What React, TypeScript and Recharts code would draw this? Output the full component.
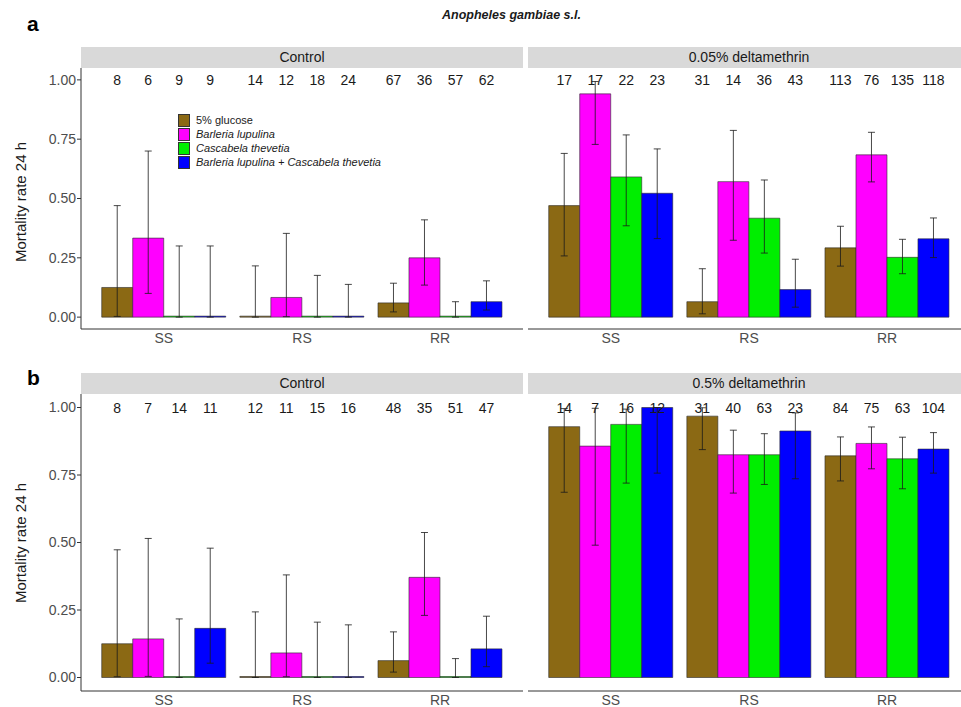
import React from 'react';
import { BarChart, Bar, XAxis, YAxis, ErrorBar, LabelList } from 'recharts';

const groups = ['SS', 'RS', 'RR'];
const treatments = ['5% glucose', 'Barleria lupulina', 'Cascabela thevetia', 'Barleria lupulina + Cascabela thevetia'];
const treatmentItalic = [false, true, true, true];
const colors = ['#8B6914', '#FF00FF', '#00EE00', '#0000FF'];
const yTicks = [0, 0.25, 0.5, 0.75, 1];
const facetTitles = ['Control', '0.05% deltamethrin', 'Control', '0.5% deltamethrin'];

// panel a — Control
const aCtrlN = [[8, 6, 9, 9], [14, 12, 18, 24], [67, 36, 57, 62]];
const aCtrlRate = [[0.125, 0.333, 0, 0], [0, 0.083, 0, 0], [0.06, 0.25, 0, 0.065]];
const aCtrlLow = [[0.003, 0.1, 0, 0], [0, 0.002, 0, 0], [0.022, 0.135, 0, 0.03]];
const aCtrlHigh = [[0.47, 0.7, 0.3, 0.3], [0.216, 0.353, 0.176, 0.138], [0.143, 0.41, 0.065, 0.153]];

// panel a — 0.05% deltamethrin
const aDeltaN = [[17, 17, 22, 23], [31, 14, 36, 43], [113, 76, 135, 118]];
const aDeltaRate = [[0.47, 0.941, 0.591, 0.522], [0.065, 0.571, 0.417, 0.116], [0.292, 0.684, 0.252, 0.33]];
const aDeltaLow = [[0.258, 0.728, 0.385, 0.331], [0.014, 0.324, 0.27, 0.042], [0.215, 0.57, 0.183, 0.251]];
const aDeltaHigh = [[0.69, 0.993, 0.768, 0.709], [0.204, 0.787, 0.578, 0.244], [0.383, 0.779, 0.328, 0.418]];

// panel b — Control
const bCtrlN = [[8, 7, 14, 11], [12, 11, 15, 16], [48, 35, 51, 47]];
const bCtrlRate = [[0.125, 0.143, 0, 0.182], [0, 0.091, 0, 0], [0.0625, 0.371, 0, 0.106]];
const bCtrlLow = [[0.003, 0.004, 0, 0.053], [0, 0.003, 0, 0], [0.02, 0.23, 0, 0.04]];
const bCtrlHigh = [[0.473, 0.515, 0.217, 0.479], [0.243, 0.38, 0.205, 0.195], [0.169, 0.537, 0.07, 0.227]];

// panel b — 0.5% deltamethrin
const bDeltaN = [[14, 7, 16, 12], [31, 40, 63, 23], [84, 75, 63, 104]];
const bDeltaRate = [[0.929, 0.857, 0.9375, 1.0], [0.968, 0.825, 0.825, 0.913], [0.821, 0.867, 0.81, 0.846]];
const bDeltaLow = [[0.686, 0.49, 0.72, 0.757], [0.844, 0.683, 0.715, 0.736], [0.728, 0.773, 0.699, 0.757]];
const bDeltaHigh = [[0.996, 0.997, 0.994, 1.0], [0.999, 0.916, 0.903, 0.98], [0.891, 0.928, 0.89, 0.907]];

const FONT = '"Liberation Sans", Arial, Helvetica, sans-serif';
const Y_DOMAIN: [number, number] = [-0.05, 1.05];

function buildData(rate: number[][], low: number[][], high: number[][], n: number[][]) {
  return groups.map((g, i) => {
    const row: any = { group: g };
    for (let t = 0; t < treatments.length; t++) {
      row['v' + t] = rate[i][t];
      row['n' + t] = n[i][t];
      row['e' + t] = [rate[i][t] - low[i][t], high[i][t] - rate[i][t]];
    }
    return row;
  });
}

function makeCountLabel(labelY: number) {
  return (props: any) => {
    const vb = props.viewBox || {};
    const x = props.x != null ? props.x : vb.x;
    const w = props.width != null ? props.width : vb.width;
    return (
      <text
        x={x + w / 2}
        y={labelY}
        textAnchor="middle"
        dominantBaseline="central"
        fontSize={14}
        fontFamily={FONT}
        fill="#1a1a1a"
      >
        {props.value}
      </text>
    );
  };
}

type FacetProps = {
  left: number;
  top: number;
  panelW: number;
  plotH: number;
  axisH: number;
  showY: boolean;
  rate: number[][];
  low: number[][];
  high: number[][];
  n: number[][];
};

function Facet({ left, top, panelW, plotH, axisH, showY, rate, low, high, n }: FacetProps) {
  const data = buildData(rate, low, high, n);
  const yAxisW = showY ? 81 : 0;
  const unit = panelW / 3.2;
  const labelY = (plotH * (Y_DOMAIN[1] - 1)) / (Y_DOMAIN[1] - Y_DOMAIN[0]);
  const renderCount = makeCountLabel(labelY);
  return (
    <div style={{ position: 'absolute', left: left - yAxisW, top }}>
      <BarChart
        width={yAxisW + panelW}
        height={plotH + axisH}
        data={data}
        margin={{ top: 0, right: 0, bottom: 0, left: 0 }}
        barGap={0}
        barCategoryGap="5%"
      >
        <XAxis
          dataKey="group"
          type="category"
          interval={0}
          padding={{ left: unit * 0.1, right: unit * 0.1 }}
          height={axisH}
          tickLine={false}
          tickSize={3}
          tickMargin={1}
          axisLine={{ stroke: '#333333', strokeWidth: 1 }}
          tick={{ fill: '#4d4d4d', fontSize: 14, fontFamily: FONT }}
        />
        <YAxis
          type="number"
          hide={!showY}
          width={yAxisW}
          domain={Y_DOMAIN}
          allowDataOverflow
          ticks={yTicks}
          interval={0}
          tickFormatter={(v: number) => v.toFixed(2)}
          tickSize={4}
          tickMargin={1}
          axisLine={{ stroke: '#333333', strokeWidth: 1 }}
          tickLine={{ stroke: '#333333' }}
          tick={{ fill: '#4d4d4d', fontSize: 14, fontFamily: FONT }}
        />
        {colors.map((c, t) => (
          <Bar
            key={t}
            dataKey={'v' + t}
            name={treatments[t]}
            fill={c}
            stroke="#2a2a2a"
            strokeWidth={0.6}
            minPointSize={1}
            isAnimationActive={false}
          >
            <ErrorBar dataKey={'e' + t} width={3.5} stroke="#1a1a1a" strokeWidth={0.8} direction="y" />
            <LabelList dataKey={'n' + t} content={renderCount} />
          </Bar>
        ))}
      </BarChart>
    </div>
  );
}

function Strip({ left, top, width, label }: { left: number; top: number; width: number; label: string }) {
  return (
    <div
      style={{
        position: 'absolute',
        left,
        top,
        width,
        height: 21,
        background: '#d9d9d9',
        color: '#1a1a1a',
        fontSize: 14,
        lineHeight: '21px',
        textAlign: 'center',
        fontFamily: FONT,
      }}
    >
      {label}
    </div>
  );
}

function YTitle({ cx, cy }: { cx: number; cy: number }) {
  return (
    <div
      style={{
        position: 'absolute',
        left: cx - 100,
        top: cy - 9,
        width: 200,
        height: 18,
        lineHeight: '18px',
        textAlign: 'center',
        transform: 'rotate(-90deg)',
        fontSize: 15,
        color: '#1a1a1a',
        fontFamily: FONT,
        whiteSpace: 'nowrap',
      }}
    >
      Mortality rate 24 h
    </div>
  );
}

function LegendBox({ left, top }: { left: number; top: number }) {
  return (
    <div style={{ position: 'absolute', left, top, fontFamily: FONT, fontSize: 11, color: '#1a1a1a' }}>
      {treatments.map((t, i) => (
        <div key={t} style={{ display: 'flex', alignItems: 'center', height: 14 }}>
          <div
            style={{
              width: 12,
              height: 13,
              background: colors[i],
              border: '0.6px solid #333',
              marginRight: 6,
              boxSizing: 'border-box',
            }}
          />
          <span style={{ fontStyle: treatmentItalic[i] ? 'italic' : 'normal', whiteSpace: 'nowrap' }}>{t}</span>
        </div>
      ))}
    </div>
  );
}

export default function App() {
  const leftX = 81;
  const rightX = 528;
  const panelW = 442;
  return (
    <div
      style={{
        position: 'absolute',
        left: 0,
        top: 0,
        width: 961,
        height: 707,
        overflow: 'hidden',
        background: '#ffffff',
        fontFamily: FONT,
      }}
    >
      <div
        style={{
          position: 'absolute',
          left: 0,
          width: 961,
          top: 8,
          textAlign: 'center',
          paddingLeft: 62,
          boxSizing: 'border-box',
          fontSize: 12.5,
          fontWeight: 'bold',
          fontStyle: 'italic',
          color: '#1a1a1a',
        }}
      >
        Anopheles gambiae s.l.
      </div>
      <div style={{ position: 'absolute', left: 27, top: 12, fontSize: 21, fontWeight: 'bold', color: '#000' }}>a</div>
      <div style={{ position: 'absolute', left: 27, top: 366, fontSize: 21, fontWeight: 'bold', color: '#000' }}>b</div>

      <Strip left={leftX} top={47} width={panelW} label={facetTitles[0]} />
      <Strip left={rightX} top={47} width={panelW} label={facetTitles[1]} />
      <Strip left={leftX} top={373} width={panelW} label={facetTitles[2]} />
      <Strip left={rightX} top={373} width={panelW} label={facetTitles[3]} />

      <YTitle cx={21} cy={202} />
      <YTitle cx={21} cy={543} />

      <Facet left={leftX} top={68} panelW={panelW} plotH={261} axisH={24} showY rate={aCtrlRate} low={aCtrlLow} high={aCtrlHigh} n={aCtrlN} />
      <Facet left={rightX} top={68} panelW={panelW} plotH={261} axisH={24} showY={false} rate={aDeltaRate} low={aDeltaLow} high={aDeltaHigh} n={aDeltaN} />
      <Facet left={leftX} top={394} panelW={panelW} plotH={297} axisH={24} showY rate={bCtrlRate} low={bCtrlLow} high={bCtrlHigh} n={bCtrlN} />
      <Facet left={rightX} top={394} panelW={panelW} plotH={297} axisH={24} showY={false} rate={bDeltaRate} low={bDeltaLow} high={bDeltaHigh} n={bDeltaN} />

      <LegendBox left={178} top={113} />
    </div>
  );
}
